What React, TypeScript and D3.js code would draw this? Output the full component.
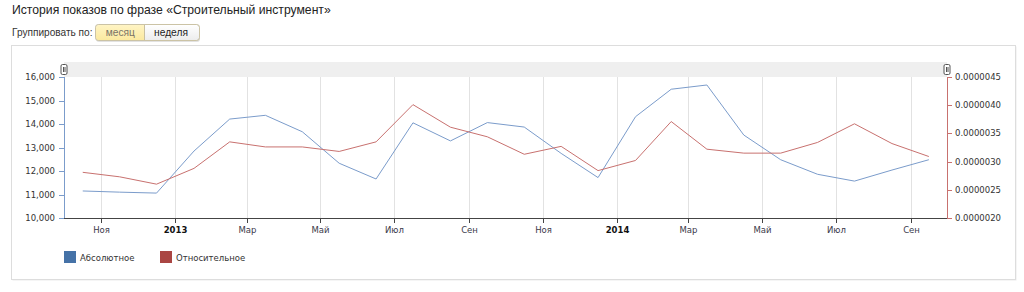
import React from "react";
import * as d3 from "d3";

const monthNames = ["Янв", "Фев", "Мар", "Апр", "Май", "Июн", "Июл", "Авг", "Сен", "Окт", "Ноя", "Дек"];
const absoluteValues = [
  11150, 11100, 11060, 12850, 14210, 14370, 13670, 12330, 11660, 14050, 13280, 14060,
  13870, 12750, 11720, 14310, 15480, 15660, 13530, 12480, 11860, 11570, 12040, 12480,
];
const relativeValues = [
  2.81, 2.73, 2.6, 2.88, 3.35, 3.26, 3.26, 3.18, 3.35, 4.01, 3.61, 3.44,
  3.13, 3.27, 2.84, 3.02, 3.71, 3.22, 3.15, 3.15, 3.34, 3.67, 3.32, 3.09,
].map((v) => v * 1e-6);
const leftTicks = [10000, 11000, 12000, 13000, 14000, 15000, 16000];
const rightTicks = [2.0e-6, 2.5e-6, 3.0e-6, 3.5e-6, 4.0e-6, 4.5e-6];
const legendItems = ["Абсолютное", "Относительное"];

const W = 1024;
const H = 292;
const plot = { left: 64, right: 947, top: 77, bottom: 218 };
const blueLine = "#7b9ccb";
const redLine = "#c8716f";
const blueSolid = "#4572A7";
const redSolid = "#AA4643";
const FONT = "'DejaVu Sans', Verdana, sans-serif";
const AFONT = "'Liberation Sans', Arial, sans-serif";

export default function App() {
  const start = new Date(2012, 9, 1);
  const end = new Date(2014, 9, 1);
  const months = d3.timeMonth.range(start, end);
  const mids = months.map((m) => new Date((m.getTime() + d3.timeMonth.offset(m, 1).getTime()) / 2));

  const x = d3.scaleTime().domain([start, end]).range([plot.left, plot.right]);
  const yL = d3.scaleLinear().domain([10000, 16000]).range([plot.bottom, plot.top]);
  const yR = d3.scaleLinear().domain([2.0e-6, 4.5e-6]).range([plot.bottom, plot.top]);

  const xTicks = d3.timeMonth.every(2)!.range(start, end);

  const lineL = d3
    .line<number>()
    .x((_, i) => x(mids[i]))
    .y((d) => yL(d));
  const lineR = d3
    .line<number>()
    .x((_, i) => x(mids[i]))
    .y((d) => yR(d));

  const fmtL = d3.format(",");

  return (
    <div style={{ position: "absolute", left: 0, top: 0 }}>
      <svg width={W} height={H} style={{ display: "block" }}>
        <defs>
          <linearGradient id="btnGrad" x1="0" y1="0" x2="0" y2="1">
            <stop offset="0" stopColor="#ffffff" />
            <stop offset="1" stopColor="#ececec" />
          </linearGradient>
          <linearGradient id="btnYellow" x1="0" y1="0" x2="0" y2="1">
            <stop offset="0" stopColor="#fff4c4" />
            <stop offset="1" stopColor="#fbe9a0" />
          </linearGradient>
        </defs>
        <rect x={0} y={0} width={W} height={H} fill="#ffffff" />
        {/* title */}
        <text x={12} y={14} fontFamily={AFONT} fontSize={12.2} fill="#222">
          История показов по фразе «Строительный инструмент»
        </text>
        <text x={12} y={36} fontFamily={AFONT} fontSize={10.1} fill="#333">
          Группировать по:
        </text>
        {/* buttons */}
        <rect x={96} y={26} width={104} height={16} rx={3} fill="#e2e2e2" />
        <rect x={95.5} y={24.5} width={104} height={16} rx={3} fill="url(#btnGrad)" stroke="#c8c8c8" />
        <path d="M144,25 H98.5 a2.5,2.5 0 0 0 -2.5,2.5 V37.5 a2.5,2.5 0 0 0 2.5,2.5 H144 Z" fill="url(#btnYellow)" />
        <rect x={95.5} y={24.5} width={104} height={16} rx={3} fill="none" stroke="#cdbf8e" strokeOpacity={0.6} />
        <line x1={144.5} y1={25} x2={144.5} y2={40} stroke="#c9c0a0" />
        <text x={120.3} y={36} textAnchor="middle" fontFamily={AFONT} fontSize={10.2} fill="#7a7466">
          месяц
        </text>
        <text x={171} y={36} textAnchor="middle" fontFamily={AFONT} fontSize={10.2} fill="#222">
          неделя
        </text>
        {/* panel */}
        <rect x={12.5} y={46.5} width={1004} height={234} fill="#ececec" />
        <rect x={11.5} y={45.5} width={1004} height={234} fill="#ffffff" stroke="#dddddd" />
        {/* navigator band */}
        <rect x={plot.left} y={62} width={plot.right - plot.left} height={plot.top - 62} fill="#efefef" />
        {/* grid */}
        {xTicks.map((t, i) => (
          <line key={"g" + i} x1={Math.round(x(t)) + 0.5} x2={Math.round(x(t)) + 0.5} y1={plot.top} y2={plot.bottom} stroke="#e2e2e2" />
        ))}
        {/* x axis */}
        <line x1={plot.left} x2={plot.right} y1={plot.bottom + 0.5} y2={plot.bottom + 0.5} stroke="#444" />
        {xTicks.map((t, i) => {
          const px = Math.round(x(t)) + 0.5;
          const isYear = t.getMonth() === 0;
          return (
            <g key={"x" + i}>
              <line x1={px} x2={px} y1={plot.bottom} y2={plot.bottom + 5} stroke="#444" />
              <text
                x={px}
                y={232.5}
                textAnchor="middle"
                fontFamily={FONT}
                fontSize={8.5}
                fontWeight={isYear ? "bold" : "normal"}
                fill={isYear ? "#111" : "#3a3a4a"}
              >
                {isYear ? String(t.getFullYear()) : monthNames[t.getMonth()]}
              </text>
            </g>
          );
        })}
        {/* left axis */}
        <line x1={plot.left + 0.5} x2={plot.left + 0.5} y1={plot.top} y2={plot.bottom} stroke={blueLine} />
        {leftTicks.map((v, i) => (
          <g key={"l" + i}>
            <line x1={plot.left - 5} x2={plot.left} y1={Math.round(yL(v)) + 0.5} y2={Math.round(yL(v)) + 0.5} stroke={blueLine} />
            <text x={55} y={yL(v) + 3} textAnchor="end" fontFamily={FONT} fontSize={8.5} fill="#333">
              {fmtL(v)}
            </text>
          </g>
        ))}
        {/* right axis */}
        <line x1={plot.right + 0.5} x2={plot.right + 0.5} y1={plot.top} y2={plot.bottom} stroke={redLine} />
        {rightTicks.map((v, i) => (
          <g key={"r" + i}>
            <line x1={plot.right} x2={plot.right + 5} y1={Math.round(yR(v)) + 0.5} y2={Math.round(yR(v)) + 0.5} stroke={redLine} />
            <text x={955} y={yR(v) + 3} textAnchor="start" fontFamily={FONT} fontSize={8.5} fill="#333">
              {v.toFixed(7)}
            </text>
          </g>
        ))}
        {/* series */}
        <path d={lineL(absoluteValues) || ""} fill="none" stroke={blueLine} strokeWidth={1} />
        <path d={lineR(relativeValues) || ""} fill="none" stroke={redLine} strokeWidth={1} />
        {/* handles */}
        {[plot.left, plot.right].map((hx, i) => (
          <g key={"h" + i}>
            <rect x={hx - 3} y={64.5} width={6} height={10} rx={1.5} fill="#ffffff" stroke="#555" />
            <line x1={hx - 0.5} x2={hx - 0.5} y1={67} y2={72} stroke="#555" />
            <line x1={hx + 1} x2={hx + 1} y1={67} y2={72} stroke="#555" />
          </g>
        ))}
        {/* legend */}
        {legendItems.map((name, i) => {
          const lx = 64 + i * 96;
          return (
            <g key={"lg" + i}>
              <rect x={lx} y={251} width={12} height={12} fill={i === 0 ? blueSolid : redSolid} />
              <text x={lx + 16} y={261} fontFamily={FONT} fontSize={8.5} fill="#333">
                {name}
              </text>
            </g>
          );
        })}
      </svg>
    </div>
  );
}
